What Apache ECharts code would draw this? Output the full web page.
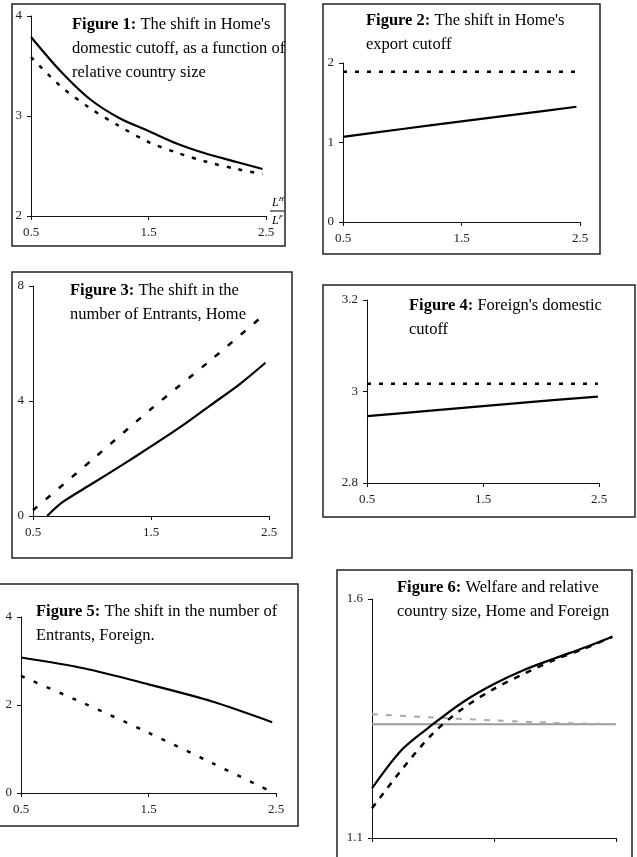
<!DOCTYPE html>
<html>
<head>
<meta charset="utf-8">
<script src="https://cdn.jsdelivr.net/npm/echarts@6/dist/echarts.min.js"></script>
<style>
  html, body { margin: 0; padding: 0; background: #fff; }
  #chart { width: 637px; height: 857px; }
</style>
</head>
<body>
<div id="chart"></div>
<script>
// x ticks shared by every figure
const xTicks = [0.5, 1.5, 2.5]

// Figure 1: Home's domestic cutoff
const x1 = [0.5, 0.75, 1, 1.25, 1.5, 1.75, 2, 2.25, 2.47]
const fig1Solid = [3.79, 3.45, 3.17, 2.98, 2.85, 2.72, 2.62, 2.54, 2.47]
const fig1Dashed = [3.59, 3.30, 3.08, 2.90, 2.74, 2.63, 2.54, 2.47, 2.42]
const y1Ticks = [2, 3, 4]

// Figure 2: Home's export cutoff
const x2 = [0.5, 1, 1.5, 2, 2.47]
const fig2Solid = [1.07, 1.17, 1.265, 1.36, 1.45]
const fig2Dashed = [1.89, 1.89, 1.89, 1.89, 1.89]
const y2Ticks = [0, 1, 2]

// Figure 3: number of entrants, Home
const x3Solid = [0.62, 0.75, 1, 1.25, 1.5, 1.75, 2, 2.25, 2.47]
const fig3Solid = [0, 0.48, 1.12, 1.76, 2.42, 3.1, 3.84, 4.58, 5.33]
const x3Dashed = [0.5, 1, 1.5, 2, 2.45]
const fig3Dashed = [0.2, 1.95, 3.72, 5.4, 6.97]
const y3Ticks = [0, 4, 8]

// Figure 4: Foreign's domestic cutoff
const x4 = [0.5, 1, 1.5, 2, 2.49]
const fig4Solid = [2.946, 2.957, 2.968, 2.979, 2.989]
const fig4Dashed = [3.017, 3.017, 3.017, 3.017, 3.017]
const y4Ticks = [2.8, 3, 3.2]

// Figure 5: number of entrants, Foreign
const x5 = [0.5, 1, 1.5, 2, 2.47]
const fig5Solid = [3.08, 2.83, 2.47, 2.08, 1.61]
const x5Dashed = [0.5, 1, 1.5, 2, 2.45]
const fig5Dashed = [2.66, 2.03, 1.37, 0.68, 0.05]
const y5Ticks = [0, 2, 4]

// Figure 6: welfare, Home and Foreign
const x6 = [0.5, 0.75, 1, 1.25, 1.5, 1.75, 2, 2.25, 2.47]
const fig6Solid = [1.204, 1.286, 1.338, 1.385, 1.422, 1.452, 1.476, 1.499, 1.521]
const fig6Dashed = [1.162, 1.245, 1.319, 1.372, 1.412, 1.444, 1.473, 1.497, 1.521]
const x6Grey = [0.5, 1, 1.5, 2, 2.5]
const fig6GreyDashed = [1.359, 1.352, 1.346, 1.341, 1.338]
const fig6GreySolid = [1.338, 1.338, 1.338, 1.338, 1.338]
const y6Ticks = [1.1, 1.6]

const FONT = 'Liberation Serif'
const zip = (xs, ys) => xs.map((x, i) => [x, ys[i]])

// grid boxes in pixels, one per figure
const grids = [
  { left: 31, top: 16, width: 235, height: 200 },
  { left: 343, top: 63, width: 237, height: 159 },
  { left: 33, top: 286, width: 236, height: 230 },
  { left: 367, top: 300, width: 232, height: 183 },
  { left: 21, top: 617, width: 255, height: 176 },
  { left: 372, top: 599, width: 244, height: 239 }
]
const yTicks = [y1Ticks, y2Ticks, y3Ticks, y4Ticks, y5Ticks, y6Ticks]

const axisBase = {
  axisLine: { show: true, onZero: false, lineStyle: { color: '#111', width: 1 } },
  splitLine: { show: false }
}

const xAxis = grids.map((g, i) => ({
  type: 'value',
  gridIndex: i,
  min: 0.5,
  max: 2.5,
  ...axisBase,
  axisTick: { show: true, length: 4, customValues: xTicks, lineStyle: { color: '#111' } },
  axisLabel: {
    show: i !== 5,
    customValues: xTicks,
    color: '#222',
    fontFamily: FONT,
    fontSize: 13,
    margin: 10
  }
}))

const yAxis = yTicks.map((t, i) => ({
  type: 'value',
  gridIndex: i,
  min: t[0],
  max: t[t.length - 1],
  ...axisBase,
  axisTick: { show: true, length: 4, customValues: t, lineStyle: { color: '#111' } },
  axisLabel: {
    customValues: t,
    color: '#222',
    fontFamily: FONT,
    fontSize: 13,
    margin: 9
  }
}))

const line = (idx, data, opts) => ({
  type: 'line',
  xAxisIndex: idx,
  yAxisIndex: idx,
  data,
  smooth: opts.smooth === false ? false : 0.3,
  showSymbol: false,
  silent: true,
  lineStyle: {
    color: opts.color || '#000',
    width: opts.width || 2.2,
    type: opts.dash || 'solid'
  }
})

const series = [
  line(0, zip(x1, fig1Solid), {}),
  line(0, zip(x1, fig1Dashed), { dash: [4, 8], width: 2.5 }),
  line(1, zip(x2, fig2Solid), {}),
  line(1, zip(x2, fig2Dashed), { dash: [4, 8], width: 2.5, smooth: false }),
  line(2, zip(x3Solid, fig3Solid), {}),
  line(2, zip(x3Dashed, fig3Dashed), { dash: [6, 11], width: 2.5 }),
  line(3, zip(x4, fig4Solid), {}),
  line(3, zip(x4, fig4Dashed), { dash: [4, 8], width: 2.5, smooth: false }),
  line(4, zip(x5, fig5Solid), {}),
  line(4, zip(x5Dashed, fig5Dashed), { dash: [4, 10], width: 2.5 }),
  line(5, zip(x6Grey, fig6GreySolid), { color: '#999', smooth: false }),
  line(5, zip(x6Grey, fig6GreyDashed), { color: '#aaa', dash: [6, 8], width: 2 }),
  line(5, zip(x6, fig6Dashed), { dash: [6, 7], width: 2.5 }),
  line(5, zip(x6, fig6Solid), {})
]

const titleText = [
  ['Figure 1:', " The shift in Home's\ndomestic cutoff, as a function of\nrelative country size", 72, 13],
  ['Figure 2:', " The shift in Home's\nexport cutoff", 366, 9],
  ['Figure 3:', ' The shift in the\nnumber of Entrants, Home', 70, 279],
  ['Figure 4:', " Foreign's domestic\ncutoff", 409, 294],
  ['Figure 5:', ' The shift in the number of\nEntrants, Foreign.', 36, 600],
  ['Figure 6:', ' Welfare and relative\ncountry size, Home and Foreign', 397, 576]
]

const title = titleText.map(([b, rest, left, top]) => ({
  left,
  top,
  padding: 0,
  text: '{b|' + b + '}' + rest,
  textStyle: {
    fontFamily: FONT,
    fontSize: 16.5,
    fontWeight: 'normal',
    color: '#000',
    lineHeight: 24,
    rich: {
      b: { fontFamily: FONT, fontSize: 16.5, fontWeight: 'bold', color: '#000', lineHeight: 24 }
    }
  }
}))

// frames around each figure
const frames = [
  [12, 4, 273, 242],
  [323, 4, 277, 250],
  [12, 272, 280, 286],
  [323, 285, 312, 232],
  [-3, 584, 301, 242],
  [337, 570, 295, 300]
]

const fracStyle = {
  l: { fontFamily: FONT, fontStyle: 'italic', fontSize: 12, fill: '#000' },
  s: { fontFamily: FONT, fontStyle: 'italic', fontSize: 7, fill: '#000', verticalAlign: 'top', padding: [0, 0, 6, 0] }
}

const graphic = frames.map(([x, y, w, h]) => ({
  type: 'rect',
  shape: { x, y, width: w, height: h },
  style: { fill: 'none', stroke: '#222', lineWidth: 1.5 },
  silent: true
})).concat([
  { type: 'text', x: 272, y: 196, style: { text: '{l|L}{s|H}', rich: fracStyle } },
  { type: 'line', shape: { x1: 270, y1: 211, x2: 284, y2: 211 }, style: { stroke: '#000', lineWidth: 1 } },
  { type: 'text', x: 272, y: 214, style: { text: '{l|L}{s|F}', rich: fracStyle } }
])

const chart = echarts.init(document.getElementById('chart'), null, { renderer: 'canvas' })
chart.setOption({
  animation: false,
  backgroundColor: '#fff',
  title,
  grid: grids.map(g => ({ ...g, containLabel: false })),
  xAxis,
  yAxis,
  series,
  graphic
})
</script>
</body>
</html>
